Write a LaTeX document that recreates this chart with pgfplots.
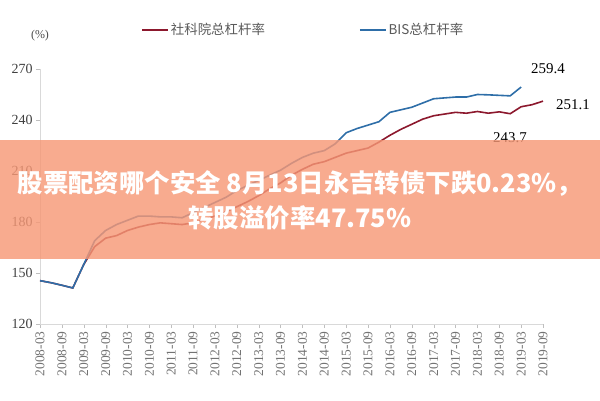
\documentclass[border=0pt]{standalone}
\usepackage{pgfplots}
\pgfplotsset{compat=1.18}
\usepackage{fontspec}
\setmainfont{Liberation Serif}
\newfontfamily\cjk{Noto Sans CJK SC}
\definecolor{redl}{RGB}{140,24,45}
\definecolor{bluel}{RGB}{46,110,168}
\definecolor{bandc}{RGB}{246,152,118}
\begin{document}
\begin{tikzpicture}[x=1bp,y=1bp]
\path[use as bounding box] (0,0) rectangle (600,400);
\begin{axis}[
  at={(40bp,76bp)}, anchor=south west,
  scale only axis, width=503bp, height=255bp,
  xmin=0, xmax=46, ymin=120, ymax=270,
  ytick={120,150,...,270},
  xtick={0,2,...,46},
  xticklabels={2008-03,2008-09,2009-03,2009-09,2010-03,2010-09,2011-03,2011-09,2012-03,2012-09,2013-03,2013-09,2014-03,2014-09,2015-03,2015-09,2016-03,2016-09,2017-03,2017-09,2018-03,2018-09,2019-03,2019-09},
  axis x line*=bottom, axis y line*=left,
  axis line style={draw=black!15,-},
  tick style={draw=black!25},
  tick align=outside, major tick length=4bp,
  /pgf/number format/assume math mode=true,
  xticklabel style={rotate=90, anchor=east, font=\fontsize{13.5}{15}\selectfont, text=black!55},
  yticklabel style={font=\fontsize{14}{16}\selectfont, text=black!75},
  clip=false,
  legend columns=2,
  legend style={draw=none, fill=none, at={(0.195,1.153)}, anchor=west,
    font=\cjk\fontsize{13.5}{15}\selectfont, text=black!65,
    /tikz/every even column/.append style={column sep=92bp}},
  legend image code/.code={\draw[#1] (0bp,0bp) -- (26bp,0bp);},
]
\addplot[redl, line width=1.6bp] coordinates {
(0,145.5)(1,144.3)(2,142.8)(3,141.2)(4,155)(5,165.5)(6,170.5)(7,172)(8,175)(9,177)
(10,178.5)(11,179.5)(12,179)(13,178.5)(14,179.5)(15,181.5)(16,183.5)(17,186)(18,189)(19,192)
(20,195.5)(21,199.5)(22,203)(23,207.5)(24,211)(25,214)(26,215.5)(27,218)(28,220.5)(29,222)
(30,223.5)(31,227)(32,231)(33,234.5)(34,237.5)(35,240.5)(36,242.5)(37,243.5)(38,244.5)(39,244)
(40,245)(41,244)(42,244.8)(43,243.7)(44,247.8)(45,249)(46,251.1)};
\addlegendentry{社科院总杠杆率}
\addplot[bluel, line width=1.6bp] coordinates {
(0,145.5)(1,144.3)(2,142.8)(3,141.2)(4,155)(5,169)(6,175)(7,178.5)(8,181)(9,183.5)
(10,183.5)(11,183)(12,183)(13,182.5)(14,185.5)(15,188.5)(16,191.5)(17,194.5)(18,198.5)(19,201.5)
(20,204.5)(21,207.5)(22,210.5)(23,214.5)(24,218)(25,220.5)(26,222)(27,226)(28,232.5)(29,235)
(30,237)(31,239)(32,244.5)(33,246)(34,247.5)(35,250)(36,252.5)(37,253)(38,253.5)(39,253.5)
(40,255)(41,254.8)(42,254.5)(43,254.2)(44,259.4)};
\addlegendentry{BIS总杠杆率}
\node[font=\fontsize{15}{17}\selectfont] at (axis cs:46.46,270) {259.4};
\node[font=\fontsize{15}{17}\selectfont] at (axis cs:48.74,248.8) {251.1};
\node[font=\fontsize{15}{17}\selectfont] at (axis cs:42.98,229.4) {243.7};
\end{axis}
\node[font=\fontsize{12}{14}\selectfont, text=black!70] at (40,364) {(\%)};
\fill[bandc, opacity=0.82] (0,141) rectangle (600,260);
\node[text=white, font=\cjk\bfseries\fontsize{25.5}{28}\selectfont] at (300,217) {股票配资哪个安全 8月13日永吉转债下跌0.23\%，};
\node[text=white, font=\cjk\bfseries\fontsize{25.5}{28}\selectfont] at (300,182) {转股溢价率47.75\%};
\end{tikzpicture}
\end{document}
